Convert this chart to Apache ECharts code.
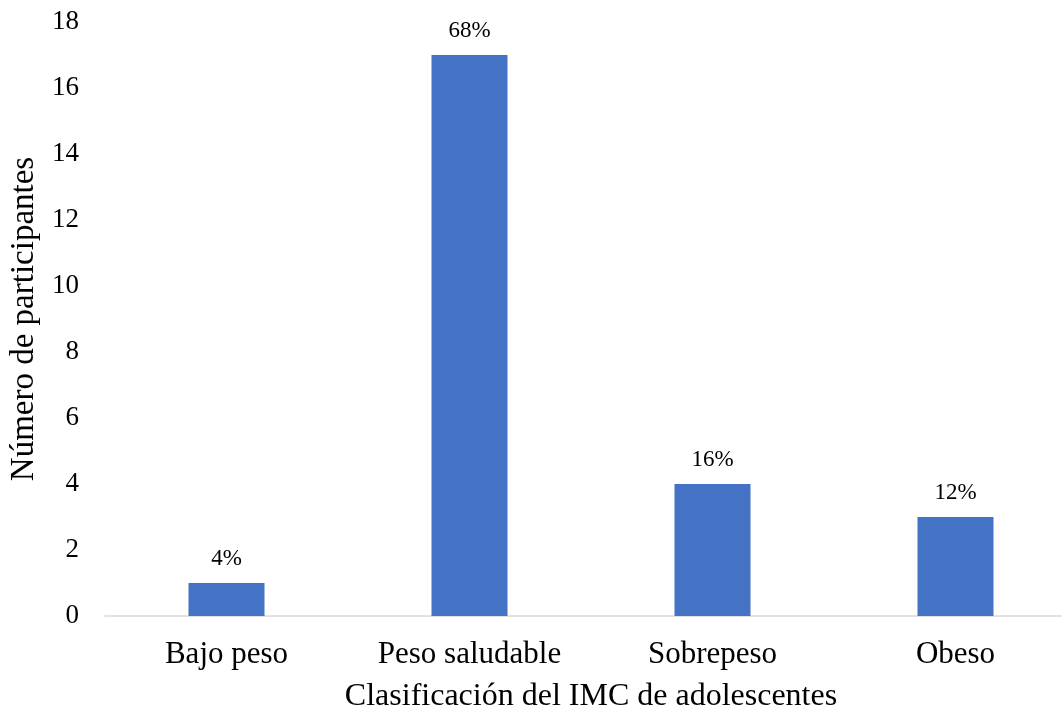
<!DOCTYPE html>
<html>
<head>
<meta charset="utf-8">
<script src="https://cdn.jsdelivr.net/npm/echarts@6/dist/echarts.min.js"></script>
<style>
  html, body { margin: 0; padding: 0; background: #fff; }
  #chart { width: 1062px; height: 713px; }
</style>
</head>
<body>
<div id="chart"></div>
<script>
  // datos
  const categorias = ['Bajo peso', 'Peso saludable', 'Sobrepeso', 'Obeso'];
  const participantes = [1, 17, 4, 3];
  const porcentajes = ['4%', '68%', '16%', '12%'];

  const serif = '"Liberation Serif", "DejaVu Serif", serif';

  let myChart = echarts.init(document.getElementById('chart'));
  myChart.setOption({
    animation: false,
    grid: {
      left: 105,
      top: 22,
      width: 972,
      height: 594,
      outerBoundsMode: 'none'
    },
    xAxis: {
      type: 'category',
      data: categorias,
      name: 'Clasificación del IMC de adolescentes',
      nameLocation: 'middle',
      nameGap: 65,
      nameTextStyle: { fontFamily: serif, fontSize: 32, color: '#000' },
      axisLine: { lineStyle: { color: '#d9d9d9', width: 1.5 } },
      axisTick: { show: false },
      axisLabel: { fontFamily: serif, fontSize: 31, color: '#000', margin: 23 }
    },
    yAxis: {
      type: 'value',
      min: 0,
      max: 18,
      interval: 2,
      name: 'Número de participantes',
      nameLocation: 'middle',
      nameGap: 58,
      nameTextStyle: { fontFamily: serif, fontSize: 33, color: '#000' },
      axisLine: { show: false },
      axisTick: { show: false },
      splitLine: { show: false },
      axisLabel: { fontFamily: serif, fontSize: 27, color: '#000', margin: 26 }
    },
    series: [{
      type: 'bar',
      data: participantes,
      barWidth: 76,
      itemStyle: { color: '#4472C4' },
      label: {
        show: true,
        position: 'top',
        distance: 13,
        fontFamily: serif,
        fontSize: 23,
        color: '#000',
        formatter: p => porcentajes[p.dataIndex]
      }
    }]
  });
</script>
</body>
</html>
